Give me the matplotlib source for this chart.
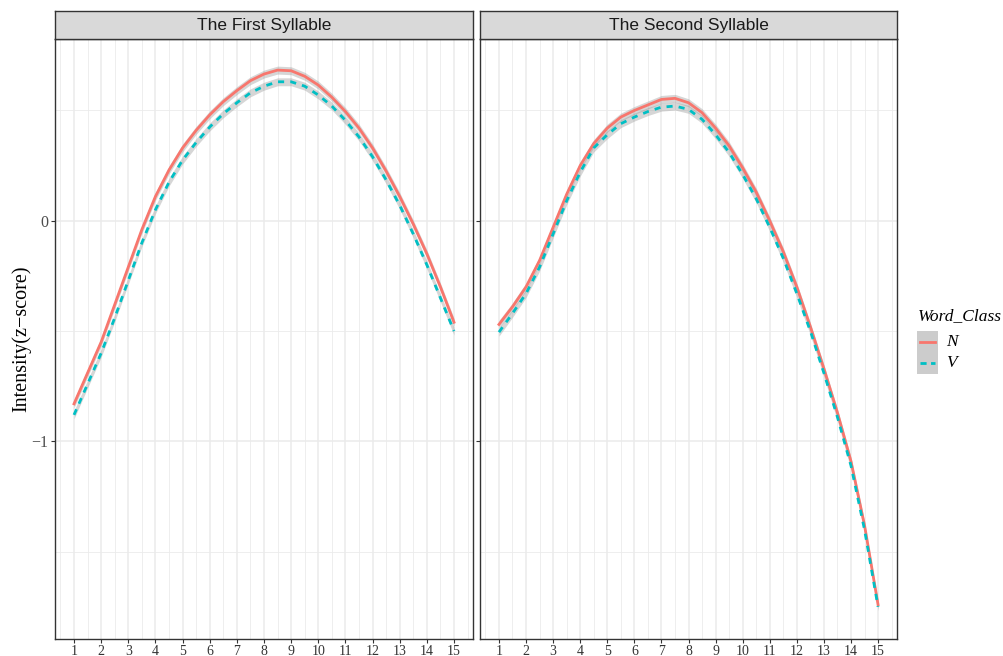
import numpy as np
import matplotlib
matplotlib.use("Agg")
import matplotlib.pyplot as plt
from matplotlib.lines import Line2D
from matplotlib.patches import Rectangle

# time-normalised points (1..15 in half steps)
x = np.arange(1, 15.5, 0.5)

# The First Syllable
first_N = [-0.83, -0.69, -0.55, -0.38, -0.21, -0.04, 0.11, 0.23, 0.33, 0.41,
           0.48, 0.54, 0.59, 0.635, 0.665, 0.683, 0.68, 0.655, 0.615, 0.56,
           0.495, 0.42, 0.33, 0.225, 0.11, -0.015, -0.15, -0.30, -0.46]
first_V = [-0.88, -0.74, -0.60, -0.44, -0.27, -0.10, 0.05, 0.175, 0.275, 0.355,
           0.425, 0.485, 0.535, 0.58, 0.61, 0.63, 0.63, 0.61, 0.57, 0.52,
           0.455, 0.38, 0.29, 0.185, 0.07, -0.06, -0.20, -0.35, -0.50]

# The Second Syllable
second_N = [-0.47, -0.39, -0.30, -0.18, -0.03, 0.12, 0.25, 0.35, 0.42, 0.47,
            0.50, 0.525, 0.55, 0.555, 0.535, 0.49, 0.42, 0.34, 0.24, 0.13,
            0.0, -0.14, -0.30, -0.48, -0.67, -0.87, -1.09, -1.38, -1.74]
second_V = [-0.505, -0.42, -0.33, -0.21, -0.06, 0.09, 0.22, 0.33, 0.39, 0.44,
            0.47, 0.495, 0.515, 0.52, 0.505, 0.46, 0.39, 0.31, 0.21, 0.10,
            -0.03, -0.17, -0.33, -0.50, -0.69, -0.89, -1.11, -1.40, -1.75]

se_band = 0.018  # half width of the grey confidence ribbon

panels = ["The First Syllable", "The Second Syllable"]
series = [(first_N, first_V), (second_N, second_V)]
col_N = "#F8766D"
col_V = "#00BFC4"

W, H = 1004, 656
fig = plt.figure(figsize=(W / 100, H / 100), dpi=100)

serif = "Liberation Serif"
sans = "Liberation Sans"

# pixel boxes (left, right) for the two panels
boxes = [(55, 473), (480, 897)]
top, bottom, strip_top = 39, 639, 11

for i, (l, r) in enumerate(boxes):
    ax = fig.add_axes([l / W, 1 - bottom / H, (r - l) / W, (bottom - top) / H])
    yN, yV = series[i]
    yN = np.array(yN)
    yV = np.array(yV)
    ax.fill_between(x, yN - se_band, yN + se_band, color="#999999", alpha=0.4, lw=0)
    ax.fill_between(x, yV - se_band, yV + se_band, color="#999999", alpha=0.4, lw=0)
    ax.plot(x, yN, color=col_N, lw=2.0, solid_joinstyle="round")
    ax.plot(x, yV, color=col_V, lw=2.0, dashes=(2.2, 2.2))
    ax.set_xlim(0.3, 15.7)
    ax.set_ylim(-1.896, 0.824)
    ax.set_xticks(range(1, 16))
    ax.set_xticks(np.arange(0.5, 16, 1), minor=True)
    ax.set_yticks([-1, 0])
    ax.set_yticks([-1.5, -0.5, 0.5], minor=True)
    ax.grid(which="major", color="#ebebeb", lw=1.1)
    ax.grid(which="minor", color="#ebebeb", lw=0.6)
    ax.set_axisbelow(True)
    for s in ax.spines.values():
        s.set_color("#333333")
        s.set_linewidth(1.0)
    ax.tick_params(which="minor", length=0)
    ax.tick_params(which="major", length=3, color="#333333", width=0.8)
    ax.tick_params(axis="x", labelsize=10, labelcolor="#333333", pad=1)
    ax.tick_params(axis="y", labelsize=11.5, labelcolor="#4d4d4d", pad=2)
    for t in ax.get_xticklabels() + ax.get_yticklabels():
        t.set_fontfamily(serif)
    ax.set_yticklabels(["\u22121", "0"])
    if i == 0:
        ax.set_ylabel("Intensity(z\u2212score)", family=serif, fontsize=14.5, labelpad=0)
    else:
        ax.set_yticklabels([])

    # facet strip
    sax = fig.add_axes([l / W, 1 - top / H, (r - l) / W, (top - strip_top) / H])
    sax.set_facecolor("#d9d9d9")
    sax.set_xticks([])
    sax.set_yticks([])
    for s in sax.spines.values():
        s.set_color("#333333")
        s.set_linewidth(1.0)
    sax.text(0.5, 0.48, panels[i], ha="center", va="center", fontsize=12.5,
             family=sans, color="#1a1a1a", transform=sax.transAxes)

# legend
fig.text(918 / W, 1 - 316 / H, "Word_Class", family=serif, style="italic",
         fontsize=12.5, va="center", ha="left")
fig.patches.append(Rectangle((917 / W, 1 - 374 / H), 21 / W, 43 / H,
                             transform=fig.transFigure, facecolor="#cccccc",
                             edgecolor="none"))
fig.lines.append(Line2D([920 / W, 935 / W], [1 - 342 / H] * 2, transform=fig.transFigure,
                        color=col_N, lw=2.0))
fig.lines.append(Line2D([920 / W, 935 / W], [1 - 363 / H] * 2, transform=fig.transFigure,
                        color=col_V, lw=2.0, dashes=(2.2, 1.6)))
fig.text(946 / W, 1 - 342 / H, "N", family=serif, style="italic", fontsize=12.5,
         va="center", ha="left")
fig.text(946 / W, 1 - 363 / H, "V", family=serif, style="italic", fontsize=12.5,
         va="center", ha="left")

fig.savefig("out.png", dpi=100)
